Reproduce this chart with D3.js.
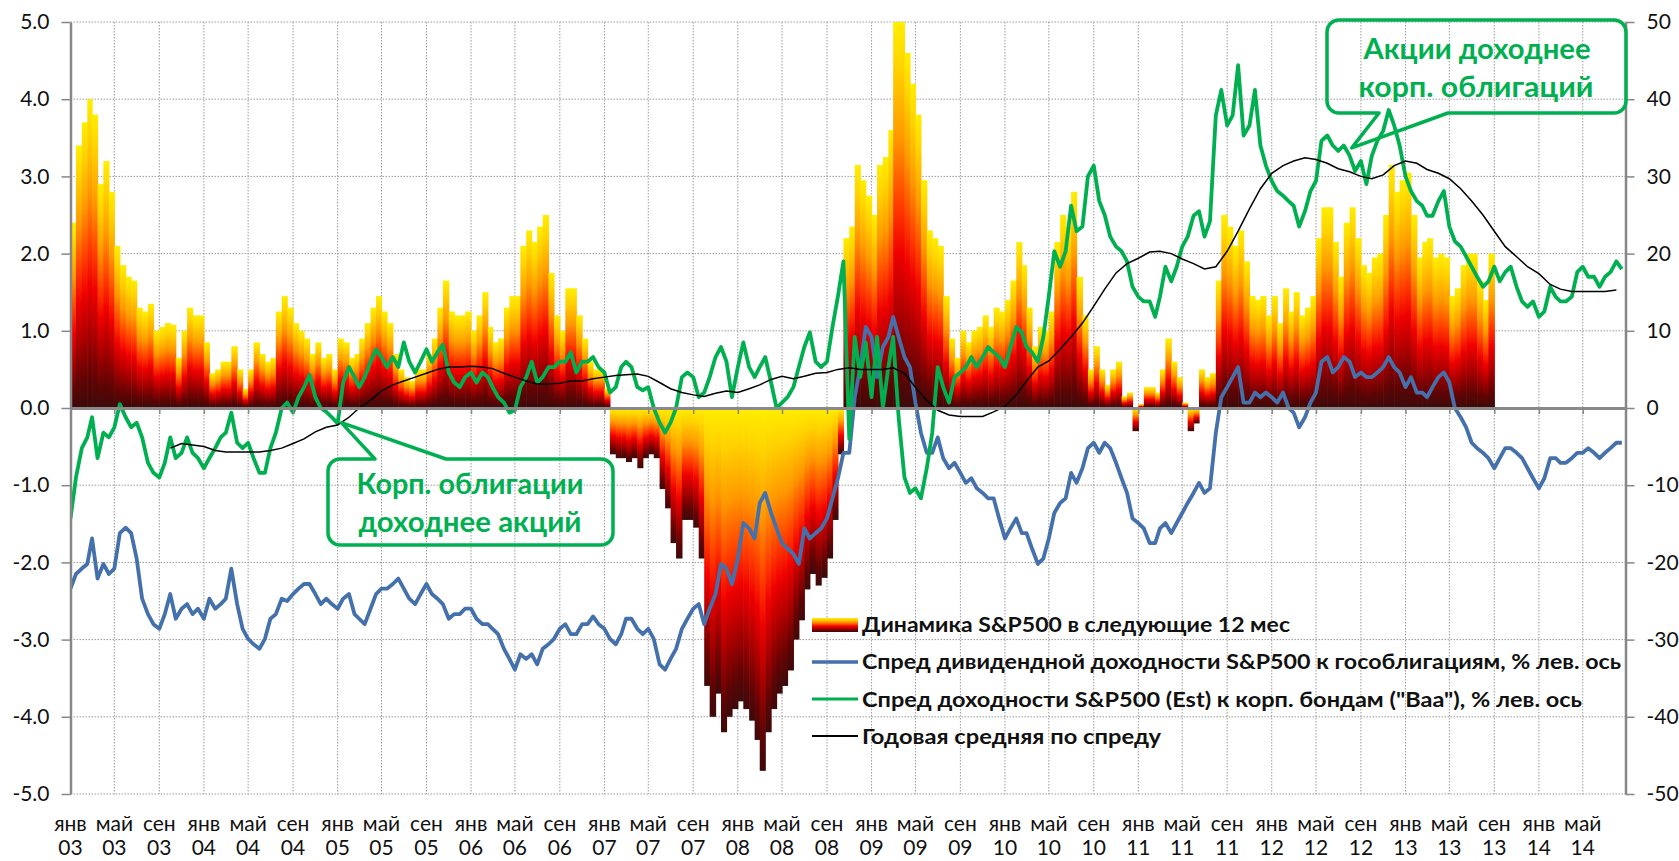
<!DOCTYPE html>
<html><head><meta charset="utf-8">
<script src="https://cdn.jsdelivr.net/npm/d3@7"></script>
<style>
body{margin:0;background:#fff}
svg{display:block}
text{font-family:Lato,"Open Sans",sans-serif}
</style>
</head><body>
<svg id="c" width="1679" height="861"></svg>
<script>
// ---------- DATA (semi-monthly: 1st and 16th of each month, from Jan 2003) ----------
// S&P500 change over following 12 months, % (right axis)
const spx12m = [
 24,34,37,40,38,29,32,28,21,18.5,17,16.5,13,12.5,13.5,10,10.5,11,10.8,6.5,10,13,12,12,
 8.5,4.5,5,6,6,8,5,2.5,5,8.5,7,6,6.5,12.5,14.5,13,11,10,9,7,8.5,6.5,7,5,
 9,8.5,6.5,7,9,11,13,14.5,12.5,11,7,5,4,3.5,5,5,7,9,13,16.5,12.5,12,12,12.5,
 10,12,15,10.5,8.5,9,13,14.5,14.5,21,23,21.5,23.5,25,17.5,12,10,15.5,15.5,12,9,6,5,5,
 2.5,-6,-6.5,-6.5,-7,-6.5,-7.8,-6.5,-6,-6.5,-10.5,-13,-17.5,-19.5,-14.5,-14.5,-15.5,-19.5,-36,-40,-37,-42,-40,-39,
 -38,-39,-40.5,-43,-47,-42,-39,-37,-36,-34,-30,-27.5,-23.5,-21.5,-23,-22,-19.5,-14.5,-6,22,23.5,31.5,29.5,27.5,
 25,31.5,32.5,36,50,50,46,42,38,29.5,23,22,21,14.5,9,6.5,10,8.5,10,10.5,12,10.5,13,12.5,
 14,16.5,21.5,18.5,13,8,10.5,10,12.5,21.5,25,23.5,28,17,12,5,8,5,3,5,6,1.5,2,-3,
 0.5,2.7,2.7,2,5,9,6,4,0.7,-3,-2,5,4,4.5,16.5,25,23.5,21,23,19,14.5,14,14.5,12,
 14.5,11,15.5,12.5,15,12,13,14.5,22,26,26,21.5,17,24,26,22,18.5,17.5,19.5,20,25,31.5,28,29.5,
 30.5,25,19.5,21.5,22,19.5,20,19.5,14.5,15.5,18.5,20,20,16.5,14,20
];
// Dividend yield spread S&P500 vs treasuries, % (left axis)
const divSpread = [
 -2.34,-2.15,-2.08,-2.02,-1.69,-2.21,-2.02,-2.15,-2.08,-1.62,-1.55,-1.62,-1.95,-2.47,-2.67,-2.8,-2.86,-2.67,-2.41,-2.73,-2.6,-2.54,-2.67,-2.6,
 -2.73,-2.47,-2.6,-2.54,-2.47,-2.08,-2.54,-2.86,-2.99,-3.06,-3.12,-2.99,-2.73,-2.67,-2.47,-2.5,-2.41,-2.34,-2.28,-2.28,-2.41,-2.54,-2.47,-2.54,
 -2.6,-2.47,-2.41,-2.67,-2.73,-2.8,-2.6,-2.41,-2.34,-2.34,-2.28,-2.21,-2.34,-2.47,-2.54,-2.41,-2.28,-2.41,-2.47,-2.54,-2.73,-2.67,-2.67,-2.6,
 -2.6,-2.73,-2.8,-2.8,-2.86,-2.93,-3.12,-3.25,-3.39,-3.19,-3.25,-3.19,-3.32,-3.12,-3.06,-2.99,-2.86,-2.8,-2.93,-2.93,-2.8,-2.8,-2.7,-2.8,
 -2.86,-2.99,-3.06,-2.93,-2.73,-2.73,-2.86,-2.93,-2.86,-2.99,-3.32,-3.39,-3.25,-3.12,-2.86,-2.73,-2.6,-2.54,-2.8,-2.6,-2.41,-2.02,-2.08,-2.28,
 -1.95,-1.49,-1.56,-1.69,-1.23,-1.1,-1.36,-1.56,-1.75,-1.82,-1.89,-2.02,-1.56,-1.69,-1.62,-1.56,-1.43,-1.17,-0.91,-0.58,-0.58,0.14,0.53,1.05,
 0.92,0.4,0.79,0.92,1.18,0.92,0.66,0.53,0.07,-0.32,-0.58,-0.58,-0.38,-0.65,-0.78,-0.71,-0.84,-0.97,-0.91,-1.04,-1.1,-1.17,-1.17,-1.43,
 -1.69,-1.56,-1.43,-1.62,-1.62,-1.82,-2.02,-1.95,-1.69,-1.36,-1.23,-1.17,-0.84,-0.97,-0.78,-0.52,-0.45,-0.58,-0.45,-0.52,-0.71,-0.91,-1.1,-1.43,
 -1.49,-1.56,-1.75,-1.75,-1.56,-1.49,-1.62,-1.49,-1.36,-1.23,-1.1,-0.97,-1.1,-1.04,-0.32,0.14,0.27,0.4,0.53,0.07,0.07,0.2,0.14,0.2,
 0.14,0.07,0.2,0.0,-0.06,-0.25,-0.12,0.07,0.2,0.6,0.66,0.46,0.53,0.66,0.6,0.4,0.46,0.4,0.4,0.46,0.53,0.66,0.53,0.46,
 0.27,0.4,0.2,0.2,0.14,0.27,0.4,0.46,0.33,0.0,-0.12,-0.25,-0.45,-0.52,-0.58,-0.65,-0.78,-0.65,-0.52,-0.52,-0.58,-0.65,-0.78,-0.91,
 -1.04,-0.91,-0.65,-0.65,-0.71,-0.71,-0.65,-0.58,-0.58,-0.52,-0.58,-0.65,-0.58,-0.52,-0.45,-0.45
];
// Earnings yield S&P500 (Est) vs Baa corporate bonds spread, % (left axis)
const eySpread = [
 -1.43,-0.9,-0.52,-0.38,-0.12,-0.65,-0.32,-0.38,-0.25,0.05,-0.12,-0.25,-0.19,-0.38,-0.71,-0.84,-0.9,-0.71,-0.38,-0.65,-0.58,-0.38,-0.58,-0.65,
 -0.78,-0.65,-0.52,-0.38,-0.32,-0.06,-0.45,-0.52,-0.45,-0.65,-0.84,-0.84,-0.52,-0.32,0.0,0.07,-0.06,0.14,0.27,0.43,0.14,0.0,-0.05,-0.12,
 -0.2,0.33,0.53,0.4,0.27,0.4,0.6,0.76,0.66,0.53,0.66,0.53,0.85,0.6,0.46,0.6,0.76,0.6,0.72,0.82,0.46,0.33,0.27,0.4,
 0.46,0.33,0.46,0.4,0.27,0.14,0.07,-0.06,-0.03,0.27,0.4,0.6,0.33,0.4,0.53,0.53,0.6,0.6,0.72,0.46,0.6,0.6,0.66,0.53,
 0.46,0.2,0.27,0.53,0.6,0.53,0.27,0.23,0.27,0.0,-0.19,-0.32,-0.19,0.0,0.4,0.46,0.4,0.14,0.2,0.4,0.66,0.79,0.6,0.14,
 0.53,0.85,0.53,0.4,0.53,0.66,0.33,0.0,0.07,0.14,0.27,0.53,0.79,0.98,0.6,0.53,0.6,1.05,1.45,1.9,-0.4,0.92,0.4,0.85,
 0.14,0.92,0.0,0.53,0.92,-0.12,-0.9,-1.1,-1.04,-1.17,-0.78,-0.32,0.53,0.27,0.07,0.4,0.46,0.53,0.66,0.53,0.66,0.79,0.72,0.66,
 0.53,0.79,1.05,0.98,0.79,0.72,0.6,0.92,1.45,2.03,1.83,2.03,2.62,2.29,2.35,3.0,3.14,2.68,2.5,2.22,2.09,2.03,1.9,1.57,
 1.44,1.38,1.38,1.18,1.44,1.83,1.64,1.83,2.09,2.22,2.49,2.55,2.22,2.42,3.79,4.12,3.66,3.79,4.44,3.53,3.66,4.12,3.4,3.14,
 2.94,2.81,2.75,2.68,2.62,2.35,2.55,2.81,2.94,3.46,3.53,3.4,3.33,3.4,3.27,3.07,3.2,2.9,3.27,3.46,3.59,3.86,3.66,3.4,
 3.0,2.81,2.68,2.62,2.49,2.49,2.68,2.81,2.35,2.16,2.09,1.96,1.83,1.7,1.57,1.64,1.83,1.64,1.76,1.83,1.57,1.38,1.31,1.38,
 1.18,1.25,1.57,1.44,1.38,1.38,1.44,1.76,1.83,1.7,1.7,1.57,1.7,1.76,1.9,1.8
];
// 1-year moving average of the spread, monthly from Oct 2003
const eyAvgStart = [2003, 9];
const eyAvg = [
 -0.52,-0.46,-0.48,
 -0.5,-0.55,-0.57,-0.57,-0.57,-0.57,-0.55,-0.52,-0.46,-0.4,-0.31,-0.25,
 -0.22,-0.12,0.0,0.1,0.22,0.3,0.35,0.4,0.45,0.5,0.53,0.53,
 0.54,0.53,0.51,0.45,0.4,0.35,0.31,0.31,0.32,0.35,0.35,0.38,
 0.4,0.42,0.43,0.44,0.41,0.33,0.25,0.2,0.17,0.15,0.19,0.22,
 0.2,0.25,0.3,0.37,0.41,0.38,0.41,0.45,0.46,0.5,0.52,0.5,
 0.5,0.5,0.52,0.45,0.27,0.1,-0.03,-0.09,-0.11,-0.11,-0.11,-0.05,
 0.02,0.17,0.35,0.53,0.61,0.76,0.92,1.1,1.32,1.54,1.75,1.87,
 1.94,2.02,2.03,2.0,1.93,1.87,1.8,1.83,2.03,2.29,2.58,2.84,
 3.04,3.14,3.2,3.24,3.22,3.17,3.1,3.06,3.0,2.97,3.02,3.14,
 3.2,3.17,3.09,3.04,2.97,2.84,2.68,2.5,2.29,2.09,1.96,1.83,
 1.74,1.6,1.54,1.51,1.51,1.51,1.51,1.53
];
const monthNames = ["янв","фев","мар","апр","май","июн","июл","авг","сен","окт","ноя","дек"];
const leftTicks = [-5,-4,-3,-2,-1,0,1,2,3,4,5];
const rightTicks = [-50,-40,-30,-20,-10,0,10,20,30,40,50];
const legendLabels = [
 "Динамика S&P500 в следующие 12 мес",
 "Спред дивидендной доходности S&P500 к гособлигациям, % лев. ось",
 "Спред доходности S&P500 (Est) к корп. бондам (\"Baa\"), % лев. ось",
 "Годовая средняя по спреду"
];
const note1 = ["Корп. облигации","доходнее акций"];
const note2 = ["Акции доходнее","корп.  облигаций"];

// ---------- LAYOUT ----------
const X0 = 70.5, X1 = 1625.5, Y0 = 22, Y1 = 794;
const svg = d3.select("#c");
const x = d3.scaleUtc().domain([new Date(Date.UTC(2003,0,1)), new Date(Date.UTC(2014,7,26))]).range([X0, X1]);
const yL = d3.scaleLinear().domain([-5,5]).range([Y1,Y0]);
const yR = d3.scaleLinear().domain([-50,50]).range([Y1,Y0]);
const semi = i => new Date(Date.UTC(2003, Math.floor(i/2), i % 2 ? 16 : 1));
const monthly = j => new Date(Date.UTC(eyAvgStart[0], eyAvgStart[1] + j, 1));

const defs = svg.append("defs");
const grad = (id) => {
  const g = defs.append("linearGradient").attr("id", id).attr("x1",0).attr("y1",0).attr("x2",0).attr("y2",1);
  [[0,"#ffee00"],[0.12,"#ffd200"],[0.3,"#ff9800"],[0.48,"#ff3a00"],[0.6,"#f00000"],[0.76,"#a80000"],[0.9,"#600404"],[1,"#3c0a0a"]]
    .forEach(([o,c]) => g.append("stop").attr("offset",o).attr("stop-color",c));
};
grad("barGrad"); grad("legGrad");
defs.append("clipPath").attr("id","plot").append("rect").attr("x",X0).attr("y",Y0).attr("width",X1-X0).attr("height",Y1-Y0);

// gridlines
const xTicks = x.ticks(d3.utcMonth.every(4));
const grid = svg.append("g").attr("stroke","#9c9c9c").attr("stroke-width",1).attr("stroke-dasharray","1.5,1.5");
grid.selectAll("line.h").data(leftTicks.filter(v => v !== 0)).join("line")
  .attr("x1",X0).attr("x2",X1).attr("y1",d=>yL(d)).attr("y2",d=>yL(d));
grid.selectAll("line.v").data(xTicks.filter(t => x(t) > X0 + 1)).join("line")
  .attr("x1",d=>x(d)).attr("x2",d=>x(d)).attr("y1",Y0).attr("y2",Y1);

// bars
const plot = svg.append("g").attr("clip-path","url(#plot)");
plot.append("g").selectAll("rect").data(spx12m).join("rect")
  .attr("x",(d,i)=>x(semi(i)))
  .attr("width",(d,i)=>x(semi(i+1))-x(semi(i))+0.6)
  .attr("y",d=>yR(Math.max(d,0)))
  .attr("height",d=>Math.abs(yR(d)-yR(0)))
  .attr("fill","url(#barGrad)");

// axes
const axL = svg.append("g").attr("transform",`translate(${X0},0)`)
  .call(d3.axisLeft(yL).tickValues(leftTicks).tickFormat(d=>d.toFixed(1)).tickSize(9).tickSizeOuter(0).tickPadding(12));
const axR = svg.append("g").attr("transform",`translate(${X1},0)`)
  .call(d3.axisRight(yR).tickValues(rightTicks).tickFormat(d=>String(d)).tickSize(9).tickSizeOuter(0).tickPadding(12));
const axB = svg.append("g").attr("transform",`translate(0,${yL(0)})`)
  .call(d3.axisBottom(x).tickValues(xTicks).tickFormat("").tickSize(6).tickSizeOuter(0));
[axL,axR,axB].forEach(a=>{
  a.select(".domain").attr("stroke","#878787").attr("stroke-width",2.5);
  a.selectAll(".tick line").attr("stroke","#878787").attr("stroke-width",1.5);
  a.selectAll("text").attr("font-size",21).attr("fill","#111").attr("font-family","Lato");
});
axB.select(".domain").attr("stroke","#8a8a8a").attr("stroke-width",3);

// x labels (two lines)
const xl = svg.append("g").attr("font-size",21).attr("fill","#111").attr("text-anchor","middle");
xTicks.forEach(t=>{
  xl.append("text").attr("x",x(t)).attr("y",831).text(monthNames[t.getUTCMonth()]);
  xl.append("text").attr("x",x(t)).attr("y",855).text(String(t.getUTCFullYear()).slice(2));
});

// lines
const lineSemi = d3.line().x((d,i)=>x(semi(i))).y(d=>yL(d));
plot.append("path").attr("d",lineSemi(divSpread)).attr("fill","none").attr("stroke","#4471ab").attr("stroke-width",3.8).attr("stroke-linejoin","round");
plot.append("path").attr("d",lineSemi(eySpread)).attr("fill","none").attr("stroke","#00b050").attr("stroke-width",3.8).attr("stroke-linejoin","round");
plot.append("path").attr("d",d3.line().x((d,j)=>x(monthly(j))).y(d=>yL(d))(eyAvg)).attr("fill","none").attr("stroke","#000").attr("stroke-width",1.5);

// callouts
function callout(box, wedge, tip, top){
  const [x1,y1,x2,y2] = box, r = 12, [w1,w2] = wedge;
  let p;
  if (top) {
    p = `M${x1+r},${y1}L${w1},${y1}L${tip[0]},${tip[1]}L${w2},${y1}L${x2-r},${y1}A${r},${r} 0 0 1 ${x2},${y1+r}`+
        `L${x2},${y2-r}A${r},${r} 0 0 1 ${x2-r},${y2}L${x1+r},${y2}A${r},${r} 0 0 1 ${x1},${y2-r}L${x1},${y1+r}A${r},${r} 0 0 1 ${x1+r},${y1}Z`;
  } else {
    p = `M${x1+r},${y1}L${x2-r},${y1}A${r},${r} 0 0 1 ${x2},${y1+r}L${x2},${y2-r}A${r},${r} 0 0 1 ${x2-r},${y2}`+
        `L${w2},${y2}L${tip[0]},${tip[1]}L${w1},${y2}L${x1+r},${y2}A${r},${r} 0 0 1 ${x1},${y2-r}L${x1},${y1+r}A${r},${r} 0 0 1 ${x1+r},${y1}Z`;
  }
  svg.append("path").attr("d",p).attr("fill","none").attr("stroke","#00b050").attr("stroke-width",3.5).attr("stroke-linejoin","round");
}
callout([328,459,613,545],[375,446],[x(new Date(Date.UTC(2005,0,11))), yL(-0.19)], true);
callout([1327,20,1626,113],[1379,1448],[x(new Date(Date.UTC(2012,7,7))), yL(3.37)], false);
const nt = svg.append("g").attr("fill","#00b050").attr("font-weight","bold").attr("font-size",28).attr("text-anchor","middle").style("white-space","pre");
nt.append("text").attr("x",470).attr("y",494).attr("textLength",227).attr("lengthAdjust","spacingAndGlyphs").text(note1[0]);
nt.append("text").attr("x",470).attr("y",532).attr("textLength",223).attr("lengthAdjust","spacingAndGlyphs").text(note1[1]);
nt.append("text").attr("x",1477).attr("y",59).attr("textLength",227).attr("lengthAdjust","spacingAndGlyphs").text(note2[0]);
nt.append("text").attr("x",1476).attr("y",97).attr("textLength",235).attr("lengthAdjust","spacingAndGlyphs").text(note2[1]);

// legend
const lg = svg.append("g");
lg.append("rect").attr("x",812).attr("y",618).attr("width",46).attr("height",14).attr("fill","url(#legGrad)");
lg.append("line").attr("x1",812).attr("x2",858).attr("y1",662).attr("y2",662).attr("stroke","#4471ab").attr("stroke-width",3.5);
lg.append("line").attr("x1",812).attr("x2",858).attr("y1",699).attr("y2",699).attr("stroke","#00b050").attr("stroke-width",3);
lg.append("line").attr("x1",812).attr("x2",858).attr("y1",736).attr("y2",736).attr("stroke","#000").attr("stroke-width",2);
const lgW = [428, 759, 720, 299], lgY = [632, 669, 706.5, 744];
legendLabels.forEach((s,i)=>{
  lg.append("text").attr("x",862).attr("y",lgY[i]).attr("font-size",20).attr("font-weight","bold").attr("fill","#111")
    .attr("textLength",lgW[i]).attr("lengthAdjust","spacingAndGlyphs").text(s);
});
</script>
</body></html>
